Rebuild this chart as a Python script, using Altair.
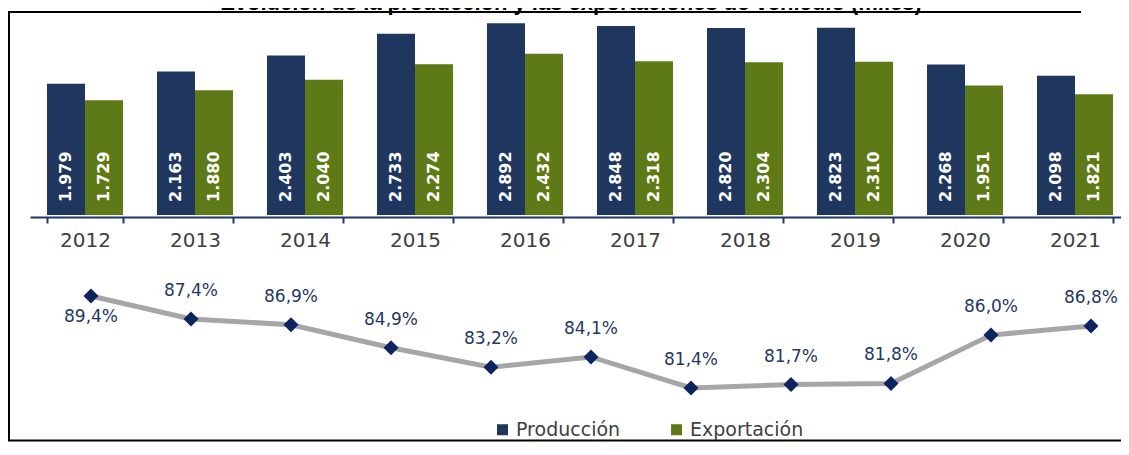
import altair as alt
import pandas as pd

# ---------------- data ----------------
years = ["2012", "2013", "2014", "2015", "2016", "2017", "2018", "2019", "2020", "2021"]
produccion = [1979, 2163, 2403, 2733, 2892, 2848, 2820, 2823, 2268, 2098]
exportacion = [1729, 1880, 2040, 2274, 2432, 2318, 2304, 2310, 1951, 1821]
series = ["Producción", "Exportación"]

ratio_years = [2011, 2012, 2013, 2014, 2015, 2016, 2017, 2018, 2019, 2020, 2021]
ratio_pct = [89.4, 87.4, 86.9, 84.9, 83.2, 84.1, 81.4, 81.7, 81.8, 86.0, 86.8]

title_text = "Evolución de la producción y las exportaciones de vehículo (miles)"

# ---------------- tables ----------------
rows = []
for y, p, e in zip(years, produccion, exportacion):
    rows.append({"year": y, "serie": series[0], "value": p})
    rows.append({"year": y, "serie": series[1], "value": e})
bars_df = pd.DataFrame(rows)
line_df = pd.DataFrame({"yr": ratio_years, "pct": ratio_pct})

W, H = 1113, 434
NAVY_BAR = "#1f375e"
GREEN = "#5e7a16"
NAVY = "#1f3864"
DIAMOND = "#0e2461"
GRAY_TXT = "#404040"

# ---------------- bars ----------------
x_bar = alt.X(
    "year:N",
    sort=years,
    scale=alt.Scale(domain=years, range=[22, 1122], paddingInner=0.309, paddingOuter=0.1545),
    axis=alt.Axis(
        title=None, orient="bottom", offset=209 - H, tickBand="extent", labelAngle=0,
        domainColor=NAVY, domainWidth=2, tickColor=NAVY, tickWidth=2, tickSize=6,
        labelFont="DejaVu Sans", labelFontSize=20, labelColor=GRAY_TXT, labelPadding=7,
        grid=False,
    ),
)
x_off = alt.XOffset("serie:N", sort=series, scale=alt.Scale(domain=series, paddingInner=0, paddingOuter=0))
y_scale_bar = alt.Scale(domain=[0, 3000], range=[207, 8], nice=False)
y_bar = alt.Y("value:Q", scale=y_scale_bar, axis=None)

bars = alt.Chart(bars_df).mark_bar().encode(
    x=x_bar,
    xOffset=x_off,
    y=y_bar,
    color=alt.Color(
        "serie:N",
        scale=alt.Scale(domain=series, range=[NAVY_BAR, GREEN]),
        legend=alt.Legend(
            title=None, orient="none", legendX=485, legendY=412, direction="horizontal",
            symbolType="square", symbolSize=121, symbolStrokeWidth=0,
            labelFont="DejaVu Sans", labelFontSize=19, labelColor=GRAY_TXT,
            columnPadding=46, labelOffset=4,
        ),
    ),
)

bar_labels = alt.Chart(bars_df).transform_calculate(
    label="replace(format(datum.value, ','), ',', '.')"
).mark_text(
    angle=270, align="left", baseline="middle", dx=13, color="white",
    font="DejaVu Sans", fontWeight="bold", fontSize=16,
).encode(
    x=x_bar, xOffset=x_off, y=alt.YDatum(0, axis=None), text="label:N"
)

bar_group = alt.layer(bars, bar_labels)

# ---------------- line ----------------
x_line = alt.X("yr:Q", scale=alt.Scale(domain=[2011, 2021], range=[83, 1083], nice=False, zero=False), axis=None)
y_line = alt.Y("pct:Q", scale=alt.Scale(domain=[81.4, 89.4], range=[380, 288], nice=False, zero=False), axis=None)

base_line = alt.Chart(line_df).encode(x=x_line, y=y_line)
line = base_line.mark_line(color="#a6a6a6", strokeWidth=5)
points = base_line.mark_point(shape="diamond", filled=True, size=225, color=DIAMOND, opacity=1)
lbl = base_line.transform_calculate(
    label="replace(format(datum.pct, '.1f'), '.', ',') + '%'"
)
labels_above = lbl.transform_filter("datum.yr != 2011").mark_text(
    dy=-28, font="DejaVu Sans", fontSize=17, color=NAVY, baseline="middle"
).encode(text="label:N")
labels_below = lbl.transform_filter("datum.yr == 2011").mark_text(
    dy=21, font="DejaVu Sans", fontSize=17, color=NAVY, baseline="middle"
).encode(text="label:N")

line_group = alt.layer(line, points, labels_above, labels_below)

# ---------------- frame & title ----------------
one = alt.Data(values=[{"k": 1}])
frame_left = alt.Chart(one).mark_rule(color="black", strokeWidth=2).encode(
    x=alt.value(1), y=alt.value(3), y2=alt.value(H - 1)
)
frame_top = alt.Chart(one).mark_rule(color="black", strokeWidth=2).encode(
    x=alt.value(0), x2=alt.value(W - 40), y=alt.value(4)
)
frame_bottom = alt.Chart(one).mark_rule(color="black", strokeWidth=2).encode(
    x=alt.value(0), x2=alt.value(W), y=alt.value(H - 1.5)
)
title = alt.Chart(one).mark_text(
    text=title_text, font="Liberation Sans", fontWeight="bold", fontSize=22,
    align="center", baseline="alphabetic", color="black",
).encode(x=alt.value(563), y=alt.value(2))

chart = alt.layer(bar_group, line_group, frame_left, frame_top, frame_bottom, title).resolve_scale(
    x="independent", y="independent"
).properties(
    width=W, height=H, padding=0, autosize=alt.AutoSizeParams(type="none"),
    background="white",
).configure_view(stroke="transparent")

chart.save("out.html", embed_options={"renderer": "svg", "actions": False})
